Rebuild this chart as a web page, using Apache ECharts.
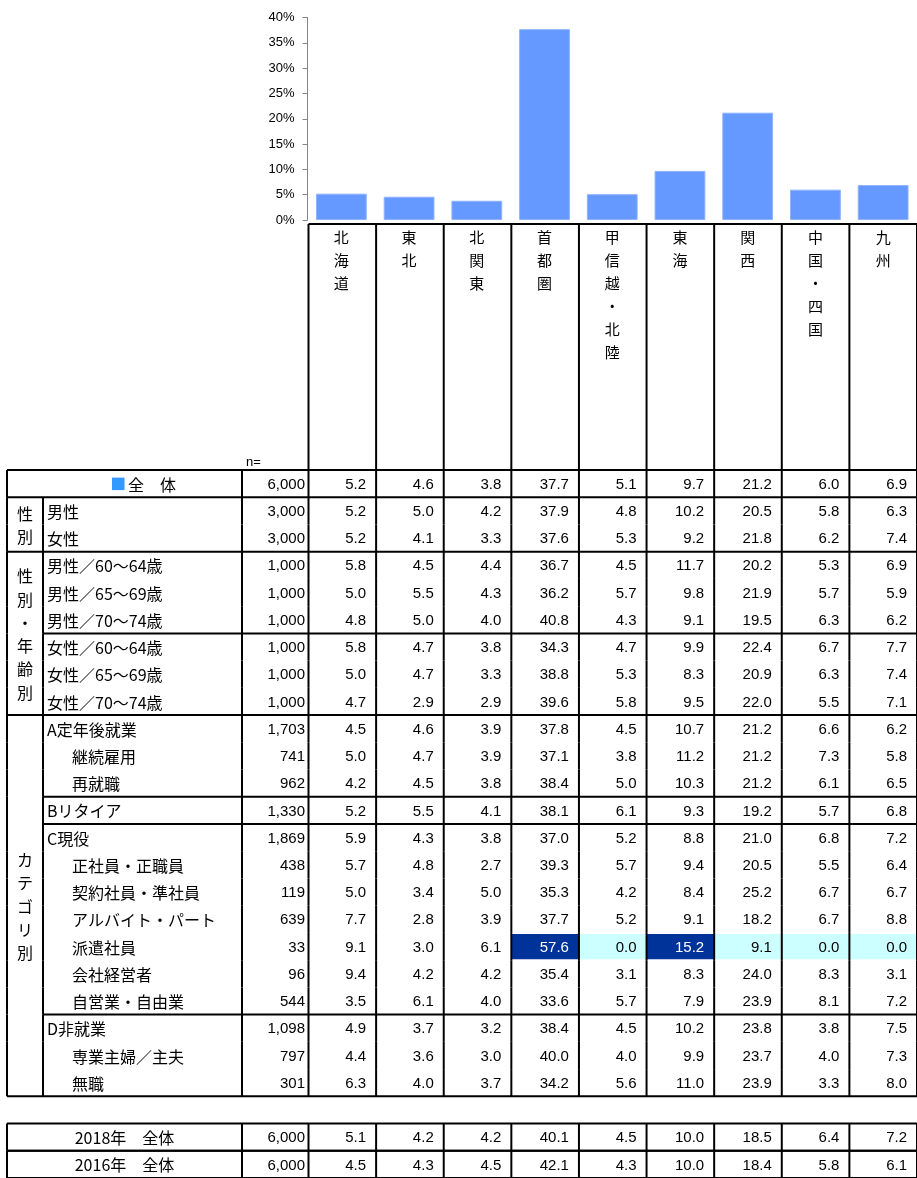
<!DOCTYPE html>
<html>
<head>
<meta charset="utf-8">
<script src="https://cdn.jsdelivr.net/npm/echarts@6/dist/echarts.min.js"></script>
<style>
  html, body { margin: 0; padding: 0; background: #fff; }
  #chart { width: 917px; height: 1178px; }
</style>
</head>
<body>
<div id="chart"></div>
<script>
// 地域（列）
const regions = ['北海道', '東北', '北関東', '首都圏', '甲信越・北陸', '東海', '関西', '中国・四国', '九州'];

// 行ラベル
const rowLabels = [
  '全　体',
  '男性', '女性',
  '男性／60～64歳', '男性／65～69歳', '男性／70～74歳',
  '女性／60～64歳', '女性／65～69歳', '女性／70～74歳',
  'A定年後就業', '継続雇用', '再就職',
  'Bリタイア',
  'C現役', '正社員・正職員', '契約社員・準社員', 'アルバイト・パート', '派遣社員', '会社経営者', '自営業・自由業',
  'D非就業', '専業主婦／主夫', '無職',
  '2018年　全体', '2016年　全体'
];
const rowN = [6000, 3000, 3000, 1000, 1000, 1000, 1000, 1000, 1000,
  1703, 741, 962, 1330, 1869, 438, 119, 639, 33, 96, 544, 1098, 797, 301, 6000, 6000];

// 構成比（%）
const shares = [
  [5.2, 4.6, 3.8, 37.7, 5.1, 9.7, 21.2, 6.0, 6.9],
  [5.2, 5.0, 4.2, 37.9, 4.8, 10.2, 20.5, 5.8, 6.3],
  [5.2, 4.1, 3.3, 37.6, 5.3, 9.2, 21.8, 6.2, 7.4],
  [5.8, 4.5, 4.4, 36.7, 4.5, 11.7, 20.2, 5.3, 6.9],
  [5.0, 5.5, 4.3, 36.2, 5.7, 9.8, 21.9, 5.7, 5.9],
  [4.8, 5.0, 4.0, 40.8, 4.3, 9.1, 19.5, 6.3, 6.2],
  [5.8, 4.7, 3.8, 34.3, 4.7, 9.9, 22.4, 6.7, 7.7],
  [5.0, 4.7, 3.3, 38.8, 5.3, 8.3, 20.9, 6.3, 7.4],
  [4.7, 2.9, 2.9, 39.6, 5.8, 9.5, 22.0, 5.5, 7.1],
  [4.5, 4.6, 3.9, 37.8, 4.5, 10.7, 21.2, 6.6, 6.2],
  [5.0, 4.7, 3.9, 37.1, 3.8, 11.2, 21.2, 7.3, 5.8],
  [4.2, 4.5, 3.8, 38.4, 5.0, 10.3, 21.2, 6.1, 6.5],
  [5.2, 5.5, 4.1, 38.1, 6.1, 9.3, 19.2, 5.7, 6.8],
  [5.9, 4.3, 3.8, 37.0, 5.2, 8.8, 21.0, 6.8, 7.2],
  [5.7, 4.8, 2.7, 39.3, 5.7, 9.4, 20.5, 5.5, 6.4],
  [5.0, 3.4, 5.0, 35.3, 4.2, 8.4, 25.2, 6.7, 6.7],
  [7.7, 2.8, 3.9, 37.7, 5.2, 9.1, 18.2, 6.7, 8.8],
  [9.1, 3.0, 6.1, 57.6, 0.0, 15.2, 9.1, 0.0, 0.0],
  [9.4, 4.2, 4.2, 35.4, 3.1, 8.3, 24.0, 8.3, 3.1],
  [3.5, 6.1, 4.0, 33.6, 5.7, 7.9, 23.9, 8.1, 7.2],
  [4.9, 3.7, 3.2, 38.4, 4.5, 10.2, 23.8, 3.8, 7.5],
  [4.4, 3.6, 3.0, 40.0, 4.0, 9.9, 23.7, 4.0, 7.3],
  [6.3, 4.0, 3.7, 34.2, 5.6, 11.0, 23.9, 3.3, 8.0],
  [5.1, 4.2, 4.2, 40.1, 4.5, 10.0, 18.5, 6.4, 7.2],
  [4.5, 4.3, 4.5, 42.1, 4.3, 10.0, 18.4, 5.8, 6.1]
];

const yTicks = [0, 5, 10, 15, 20, 25, 30, 35, 40];

// 表の構造
const subRows = [10, 11, 14, 15, 16, 17, 18, 19, 21, 22];
const groups = [
  { label: '性別', start: 1, count: 2 },
  { label: '性別・年齢別', start: 3, count: 6 },
  { label: 'カテゴリ別', start: 9, count: 14 }
];
const blockStarts = [6, 12, 13, 20];
const darkCells = [[17, 3], [17, 5]];
const lightCells = [[17, 4], [17, 6], [17, 7], [17, 8]];

const JP = '"Noto Sans CJK JP", sans-serif';
const NUM = '"Liberation Sans", Arial, sans-serif';

const mainRows = 23;
const slot = i => (i < mainRows ? i : i + 1);
const tableIds = [];
for (let i = 0; i < rowLabels.length + 1; i++) tableIds.push(String(i));

const cellData = [];
shares.forEach((row, i) => {
  row.forEach((v, c) => {
    let mark = 0;
    if (darkCells.some(d => d[0] === i && d[1] === c)) mark = 2;
    else if (lightCells.some(d => d[0] === i && d[1] === c)) mark = 1;
    cellData.push([c, slot(i), v, mark]);
  });
});
const rowData = rowLabels.map((l, i) => [0, slot(i), i]);

function renderCell(params, api) {
  const p = api.coord([api.value(0), api.value(1)]);
  const s = api.size([1, 1]);
  const mark = api.value(3);
  const children = [];
  if (mark) {
    children.push({
      type: 'rect',
      shape: { x: p[0] - s[0] / 2, y: p[1] - s[1] / 2 + 1, width: s[0], height: s[1] - 2 },
      style: { fill: mark === 2 ? '#003399' : '#ccffff' }
    });
  }
  children.push({
    type: 'text',
    style: {
      x: p[0] + s[0] / 2 - 10, y: p[1] + 1,
      text: Number(api.value(2)).toFixed(1),
      fill: mark === 2 ? '#fff' : '#000',
      fontSize: 15, fontFamily: NUM,
      align: 'right', verticalAlign: 'middle'
    }
  });
  return { type: 'group', children };
}

function renderRow(params, api) {
  const i = api.value(2);
  const p = api.coord([0, api.value(1)]);
  const s = api.size([1, 1]);
  const x0 = p[0] - s[0] / 2;
  const top = p[1] - s[1] / 2;
  const bot = top + s[1];
  const x1 = x0 + regions.length * s[0];
  const wide = i === 0 || i >= mainRows;
  const ch = [];
  const line = (ax, ay, bx, by) => ch.push({
    type: 'line', shape: { x1: ax, y1: ay, x2: bx, y2: by },
    style: { stroke: '#000', lineWidth: 2 }
  });
  const text = (x, y, t, opt) => ch.push({
    type: 'text',
    style: Object.assign({ x, y, text: t, fill: '#000', fontSize: 16, fontFamily: JP, verticalAlign: 'middle' }, opt)
  });

  // 縦線
  const xs = [7, 242];
  for (let k = 0; k <= regions.length; k++) xs.push(x0 + k * s[0]);
  if (!wide) xs.push(43);
  xs.forEach(x => line(x, top, x, bot));

  // 横線
  if (wide || groups.some(g => g.start === i)) line(7, top, x1, top);
  else if (blockStarts.includes(i)) line(43, top, x1, top);
  if (i === mainRows - 1 || i >= mainRows) line(7, bot, x1, bot);

  // 行ラベル
  if (i === 0) {
    ch.push({ type: 'rect', shape: { x: 112, y: p[1] - 6, width: 12.5, height: 12.5 }, style: { fill: '#3399ff' } });
    text(128, p[1] + 1, rowLabels[i], { align: 'left' });
  } else if (i >= mainRows) {
    text(124.5, p[1] + 1, rowLabels[i], { align: 'center' });
  } else {
    text(subRows.includes(i) ? 72 : 47, p[1] + 1, rowLabels[i], { align: 'left' });
  }
  text(305, p[1] + 1, rowN[i].toLocaleString('en-US'), { align: 'right', fontSize: 15, fontFamily: NUM });

  // グループラベル（縦書き）
  const g = groups.find(g => g.start === i);
  if (g) {
    text(25, top + g.count * s[1] / 2 + 1, g.label.split('').join('\n'), { align: 'center', lineHeight: 23.3 });
  }

  // 見出し部分
  if (i === 0) {
    const headTop = 224;
    line(x0, headTop, x1, headTop);
    for (let k = 0; k <= regions.length; k++) line(x0 + k * s[0], headTop, x0 + k * s[0], top);
    text(246, 462, 'n=', { align: 'left', fontSize: 13, fontFamily: NUM });
  }
  return { type: 'group', children: ch };
}

const chart = echarts.init(document.getElementById('chart'));
chart.setOption({
  animation: false,
  grid: [
    { left: 307.5, top: 17.5, width: 617, height: 202.5 },
    { left: 308.5, top: 470, width: 619, height: 27.43 * tableIds.length }
  ],
  xAxis: [
    {
      type: 'category', gridIndex: 0, data: regions,
      axisLine: { show: false }, axisTick: { show: false },
      axisLabel: {
        interval: 0, margin: 6, color: '#000', fontSize: 15, lineHeight: 23, fontFamily: JP,
        formatter: v => v.split('').join('\n')
      }
    },
    { type: 'category', gridIndex: 1, data: regions, show: false }
  ],
  yAxis: [
    {
      type: 'value', gridIndex: 0, min: yTicks[0], max: yTicks[yTicks.length - 1], interval: 5,
      axisLine: { show: true, lineStyle: { color: '#868686' } },
      axisTick: { show: true, length: 5, lineStyle: { color: '#868686' } },
      splitLine: { show: false },
      axisLabel: { color: '#000', fontSize: 13, fontFamily: NUM, margin: 13, formatter: '{value}%' }
    },
    { type: 'category', gridIndex: 1, data: tableIds, inverse: true, show: false }
  ],
  series: [
    {
      type: 'bar', xAxisIndex: 0, yAxisIndex: 0,
      data: shares[0], barCategoryGap: '25%',
      itemStyle: { color: '#6699ff', borderColor: '#8fb3ff', borderWidth: 1 }
    },
    {
      type: 'custom', xAxisIndex: 1, yAxisIndex: 1, z: 2,
      data: cellData, renderItem: renderCell
    },
    {
      type: 'custom', xAxisIndex: 1, yAxisIndex: 1, z: 3,
      data: rowData, renderItem: renderRow
    }
  ]
});
</script>
</body>
</html>
